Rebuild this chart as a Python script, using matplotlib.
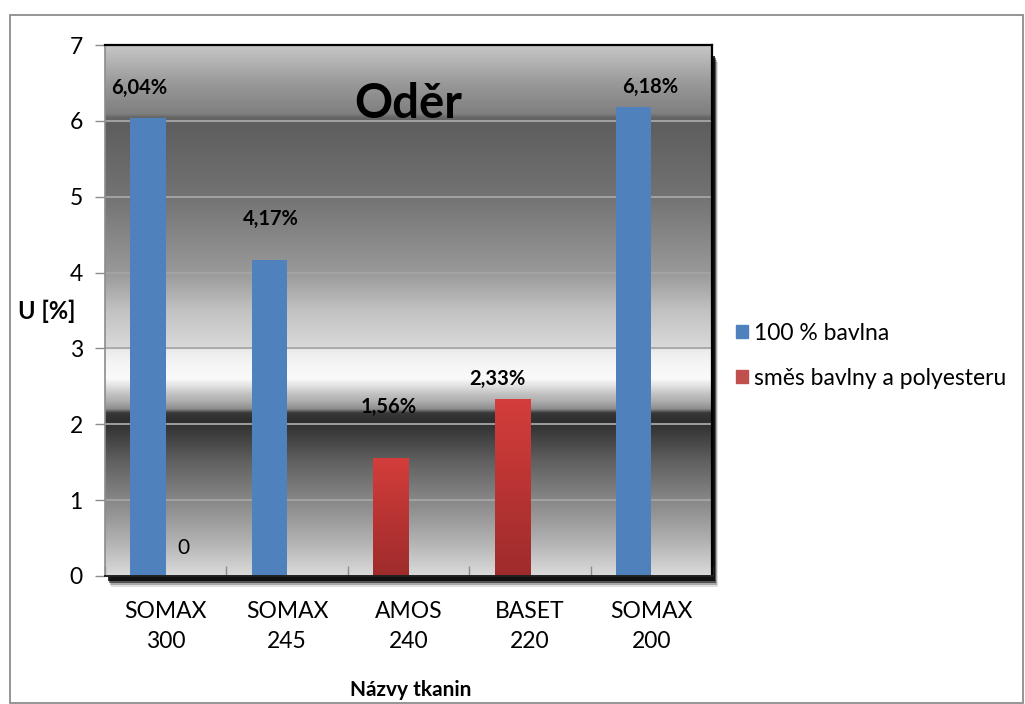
import numpy as np
import matplotlib
matplotlib.use("Agg")
import matplotlib.pyplot as plt
from matplotlib.patches import Rectangle

plt.rcParams['font.family'] = ['Lato', 'DejaVu Sans']

# ---- data ----
categories = ["SOMAX\n300", "SOMAX\n245", "AMOS\n240", "BASET\n220", "SOMAX\n200"]
bavlna = [6.04, 4.17, np.nan, np.nan, 6.18]          # 100 % bavlna
smes = [0.0, np.nan, 1.56, 2.33, np.nan]              # směs bavlny a polyesteru
bavlna_labels = ["6,04%", "4,17%", "", "", "6,18%"]
smes_labels = ["0", "", "1,56%", "2,33%", ""]
series_names = ["100 % bavlna", "směs bavlny a polyesteru"]
yticks = [0, 1, 2, 3, 4, 5, 6, 7]
title = "Oděr"
ylabel = "U [%]"
xlabel = "Názvy tkanin"

BLUE = "#4f81bd"
RED = "#c0504d"

W, H = 1025, 704
fig = plt.figure(figsize=(W / 100, H / 100), dpi=100)
fig.patch.set_facecolor("white")

L, R, B, T = 105, 712, 576, 45
ax = fig.add_axes([L / W, 1 - B / H, (R - L) / W, (B - T) / H])
ax.set_xlim(-0.5, len(categories) - 0.5)
ax.set_ylim(0, 7)

# outer border
fig.patches.append(Rectangle((10 / W, 0.002), (W - 12) / W, 1 - 15 / H - 0.002,
                             transform=fig.transFigure, fill=False,
                             edgecolor="#8c8c8c", linewidth=1.3, zorder=-5))

# drop shadow behind plot area
for dx, dy, a in [(6, 11, 0.12), (5, 9, 0.25), (4, 7, 0.5), (3, 5, 0.8)]:
    fig.patches.append(Rectangle(((L + dx) / W, 1 - (B + dy) / H), (R - L) / W,
                                 (B - T - 6) / H, transform=fig.transFigure,
                                 facecolor="black", edgecolor="none",
                                 alpha=a, zorder=-1))

# metallic gradient background (value -> gray level)
stops_v = [0.0, 0.5, 1.0, 1.5, 1.95, 2.05, 2.15, 2.2, 2.3, 2.4, 2.5, 2.6, 2.8, 2.98, 3.02,
           3.5, 4.0, 5.0, 5.95, 6.05, 6.1, 6.5, 7.0]
stops_g = [0.86, 0.68, 0.53, 0.38, 0.21, 0.18, 0.22, 0.55, 0.68, 0.76, 0.88, 0.98, 0.96,
           0.92, 0.85, 0.76, 0.60, 0.45, 0.37, 0.40, 0.50, 0.60, 0.78]
yy = np.linspace(0, 7, 700)
g = np.interp(yy, stops_v, stops_g)
img = np.stack([g, g, g], axis=-1)[:, None, :].repeat(2, axis=1)
ax.imshow(img, extent=[-0.5, len(categories) - 0.5, 0, 7], origin="lower",
          aspect="auto", zorder=0, interpolation="bilinear")

# gridlines
for v in yticks[1:-1]:
    ax.axhline(v, color="#a6a6a6", linewidth=1.3, zorder=1)

bw = 0.29
off = 0.145
x = np.arange(len(categories))

# red gradient for bars
rg = np.linspace(0, 1, 100)[:, None]
top_c = np.array([0.83, 0.24, 0.23])
bot_c = np.array([0.62, 0.17, 0.17])
red_img = (bot_c + (top_c - bot_c) * rg)[:, None, :].repeat(2, axis=1)

bars_b = []
bars_r = []
for i in range(len(categories)):
    has_b = not np.isnan(bavlna[i])
    if has_b:
        b = ax.bar(x[i] - off, bavlna[i], bw, color=BLUE, zorder=2)[0]
        bars_b.append((i, b))
    if not np.isnan(smes[i]):
        xr = x[i] + off if has_b else x[i] - off
        r = ax.bar(xr, smes[i], bw, color=RED, zorder=2)[0]
        if smes[i] > 0:
            im = ax.imshow(red_img, extent=[xr - bw / 2, xr + bw / 2, 0, smes[i]],
                           origin="lower", aspect="auto", zorder=2.5)
            im.set_clip_path(r)
        bars_r.append((i, r))

# value labels (manually placed like the reference)
lab_off_b = {0: (-9, 30), 1: (1, 41), 4: (16, 20)}
lab_off_r = {0: (0, 28), 2: (-2, 51), 3: (-15, 20)}
for i, b in bars_b:
    dx, dy = lab_off_b[i]
    ax.annotate(bavlna_labels[i], (b.get_x() + b.get_width() / 2, b.get_height()),
                xytext=(dx, dy), textcoords="offset pixels", ha="center", va="center",
                fontsize=14.5, fontweight="bold", color="black", zorder=5)
for i, r in bars_r:
    dx, dy = lab_off_r[i]
    ax.annotate(smes_labels[i], (r.get_x() + r.get_width() / 2, r.get_height()),
                xytext=(dx, dy), textcoords="offset pixels", ha="center", va="center",
                fontsize=15 if smes[i] == 0 else 14.5,
                fontweight="bold" if smes[i] > 0 else "normal",
                color="black", zorder=5)

ax.text(0.5, 0.889, title, transform=ax.transAxes, ha="center", va="center",
        fontsize=34, fontweight="bold", color="black", zorder=5)

# axes styling
ax.set_yticks(yticks)
ax.set_yticklabels([str(v) for v in yticks], fontsize=16.5)
ax.tick_params(axis="y", direction="out", length=7, width=1, color="#8c8c8c", pad=9)
ax.set_xticks(x)
ax.set_xticklabels(categories, fontsize=16.5, linespacing=1.55)
ax.tick_params(axis="x", which="major", length=0, pad=18)
ax.set_xticks(np.arange(-0.5, len(categories)), minor=True)
ax.tick_params(axis="x", which="minor", direction="in", length=7, width=1,
               color="#8c8c8c")
for s in ["top", "right"]:
    ax.spines[s].set_color("black")
    ax.spines[s].set_linewidth(1.6)
ax.spines["left"].set_color("#8c8c8c")
ax.spines["left"].set_linewidth(1.2)
ax.spines["bottom"].set_color("#222222")
ax.spines["bottom"].set_linewidth(1.4)

fig.text(18 / W, 1 - 311 / H, ylabel, ha="left", va="center",
         fontsize=17, fontweight="bold")
fig.text(411 / W, 1 - 690 / H, xlabel, ha="center", va="center",
         fontsize=15, fontweight="bold")

# legend
lh = [Rectangle((0, 0), 1, 1, color=BLUE), Rectangle((0, 0), 1, 1, color=RED)]
fig.legend(lh, series_names, loc="center left", bbox_to_anchor=(736 / W, 1 - 356 / H),
           frameon=False, fontsize=16.5, handlelength=0.52, handleheight=0.5,
           handletextpad=0.25, labelspacing=1.05, borderaxespad=0, borderpad=0)

fig.savefig("out.png", dpi=100)
